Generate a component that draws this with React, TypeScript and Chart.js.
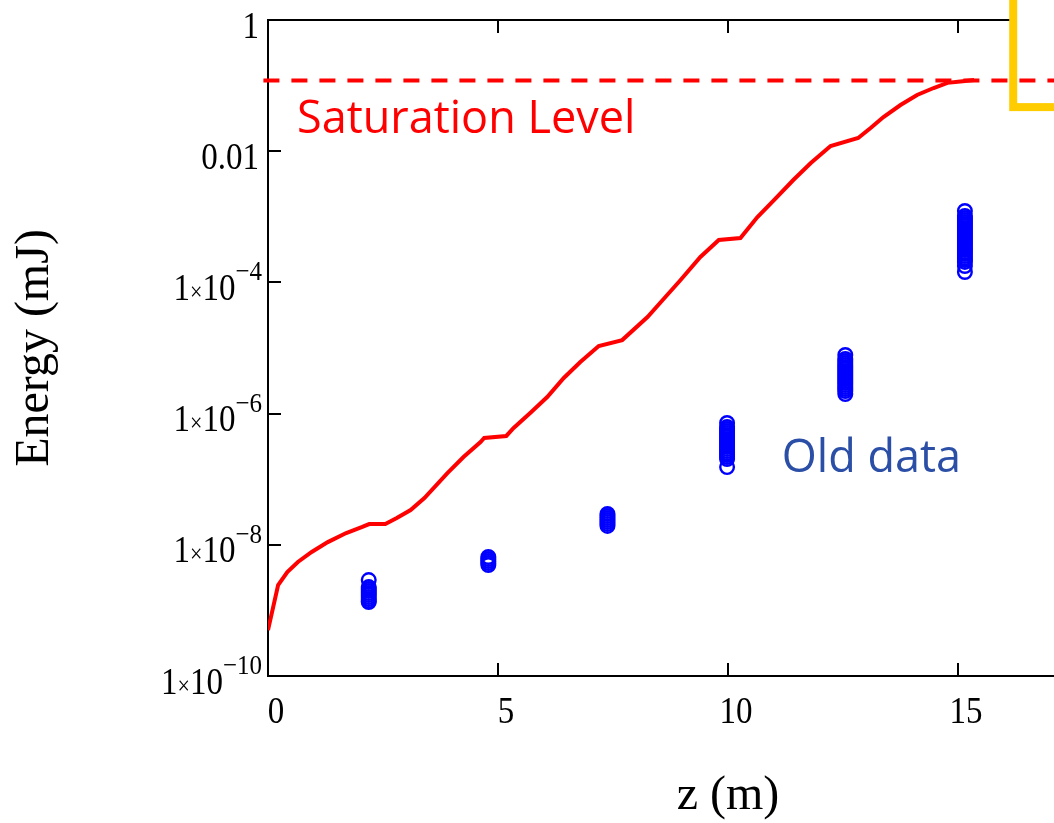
import React, { useEffect, useRef } from 'react';
import { Chart, registerables } from 'chart.js';

Chart.register(...registerables);

// ---- data ----
const curveZ = [
  0, 0.22, 0.42, 0.65, 0.95, 1.3, 1.7, 2.05, 2.2, 2.55, 2.8, 3.1, 3.4, 3.9, 4.25, 4.62, 4.7,
  5.18, 5.34, 5.7, 6.07, 6.43, 6.79, 7.19, 7.7, 8.25, 8.6, 8.95, 9.4, 9.8, 10.27, 10.64, 11.0,
  11.42, 11.8, 12.23, 12.83, 13.1, 13.38, 13.75, 14.11, 14.47, 14.77, 15.05, 15.35,
];
const curveEnergy = [
  5.0e-10, 2.44e-9, 3.85e-9, 5.47e-9, 7.77e-9, 1.1e-8, 1.51e-8, 1.87e-8, 2.07e-8, 2.07e-8,
  2.56e-8, 3.39e-8, 5.17e-8, 1.24e-7, 2.18e-7, 3.69e-7, 4.25e-7, 4.56e-7, 6.03e-7, 1.02e-6,
  1.79e-6, 3.49e-6, 6.12e-6, 1.07e-5, 1.32e-5, 2.97e-5, 5.58e-5, 1.05e-4, 2.44e-4, 4.43e-4,
  4.75e-4, 9.93e-4, 1.8e-3, 3.64e-3, 6.61e-3, 1.2e-2, 1.59e-2, 2.26e-2, 3.32e-2, 5.06e-2,
  7.19e-2, 9.19e-2, 0.11, 0.1155, 0.1217,
];
const saturationZ = [-0.1, 20];
const saturationEnergy = [0.12, 0.12];

const oldDataZ = [2.19, 4.79, 7.38, 9.98, 12.55, 15.15];
const oldDataEnergy = [
  [2.9e-9, 2.27e-9, 2.12e-9, 1.98e-9, 1.84e-9, 1.72e-9, 1.6e-9, 1.49e-9, 1.39e-9, 1.34e-9],
  [6.52e-9, 6.08e-9, 5.66e-9, 5.28e-9, 4.92e-9],
  [2.95e-8, 2.75e-8, 2.56e-8, 2.39e-8, 2.23e-8, 2.08e-8, 1.94e-8],
  [
    7.19e-7, 6.25e-7, 5.82e-7, 5.43e-7, 5.06e-7, 4.72e-7, 4.4e-7, 4.1e-7, 3.82e-7, 3.56e-7,
    3.32e-7, 3.1e-7, 2.89e-7, 2.69e-7, 2.51e-7, 2.34e-7, 2.18e-7, 2.03e-7, 1.53e-7,
  ],
  [
    7.82e-6, 6.79e-6, 6.33e-6, 5.9e-6, 5.5e-6, 5.13e-6, 4.78e-6, 4.46e-6, 4.16e-6, 3.88e-6,
    3.61e-6, 3.37e-6, 3.14e-6, 2.93e-6, 2.73e-6, 2.54e-6, 2.37e-6, 2.21e-6, 1.99e-6,
  ],
  [
    1.225e-3, 1.028e-3, 9.59e-4, 8.94e-4, 8.33e-4, 7.77e-4, 7.24e-4, 6.75e-4, 6.29e-4, 5.86e-4,
    5.47e-4, 5.1e-4, 4.75e-4, 4.43e-4, 4.13e-4, 3.85e-4, 3.59e-4, 3.34e-4, 3.12e-4, 2.91e-4,
    2.71e-4, 2.52e-4, 2.35e-4, 2.19e-4, 2.05e-4, 1.78e-4, 1.44e-4,
  ],
];

const xTickValues = [0, 5, 10, 15, 20];
const xTickLabels = ['0', '5', '10', '15', '20'];
const yTickValues = [1e-10, 1e-8, 1e-6, 1e-4, 1e-2, 1];
const yTickLabels = ['1×10^−10', '1×10^−8', '1×10^−6', '1×10^−4', '0.01', '1'];

const xTitle = 'z (m)';
const yTitle = 'Energy (mJ)';
const saturationText = 'Saturation Level';
const saturationTextAt = { x: 0.63, y: 0.019 };
const oldDataText = 'Old data';
const oldDataTextAt = { x: 11.17, y: 1.29e-7 };
const boxCorner = { x: 16.2, y: 0.047 };

const SERIF = '"Liberation Serif", "Times New Roman", serif';
const SANS = '"Open Sans", "Noto Sans", sans-serif';
const STRETCH = 1.16;
const TICK_LEN = 13;

function stretchedText(ctx: CanvasRenderingContext2D, t: string, x: number, baseline: number, sy: number) {
  ctx.save();
  ctx.translate(x, baseline);
  ctx.scale(1, sy);
  ctx.fillText(t, 0, 0);
  ctx.restore();
}

function drawYLabel(ctx: CanvasRenderingContext2D, label: string, right: number, py: number) {
  const [base, exp] = label.split('^');
  const segs: { t: string; font: string; dy: number; sy: number }[] = [];
  for (const ch of base) {
    const font = ch === '×' ? `22px ${SERIF}` : `33px ${SERIF}`;
    const last = segs[segs.length - 1];
    if (last && last.font === font) last.t += ch;
    else segs.push({ t: ch, font, dy: 17.5, sy: STRETCH });
  }
  if (exp) segs.push({ t: exp, font: `25px ${SERIF}`, dy: -2, sy: 1.1 });
  let total = 0;
  const widths = segs.map((s) => {
    ctx.font = s.font;
    const w = ctx.measureText(s.t).width;
    total += w;
    return w;
  });
  let x = right - total;
  segs.forEach((s, i) => {
    ctx.font = s.font;
    stretchedText(ctx, s.t, x, py + s.dy, s.sy);
    x += widths[i];
  });
}

const framePlugin = {
  id: 'frameAndNotes',
  beforeDatasetsDraw(chart: any) {
    const { ctx, chartArea: a, scales } = chart;
    const x = scales.x;
    const y = scales.y;
    ctx.save();
    ctx.fillStyle = '#000';
    // top and right frame
    ctx.fillRect(a.left - 1, a.top - 1, a.right - a.left + 2, 2);
    ctx.fillRect(a.right - 1, a.top - 1, 2, a.bottom - a.top + 2);
    // inner of the framed inset box (white)
    const bx = x.getPixelForValue(boxCorner.x);
    const by = y.getPixelForValue(boxCorner.y);
    ctx.fillStyle = '#fff';
    ctx.fillRect(bx, -10, chart.width - bx + 10, by + 10);
    ctx.restore();
  },
  afterDraw(chart: any) {
    const { ctx, chartArea: a, scales } = chart;
    const x = scales.x;
    const y = scales.y;
    ctx.save();
    // inward tick marks
    ctx.fillStyle = '#000000';
    for (let i = 0; i < xTickValues.length; i++) {
      const px = Math.round(x.getPixelForValue(xTickValues[i]));
      ctx.fillRect(px - 1, a.bottom - TICK_LEN, 2, TICK_LEN);
      if (px < 1000) ctx.fillRect(px - 1, a.top, 2, TICK_LEN);
    }
    for (let i = 0; i < yTickValues.length; i++) {
      const py = Math.round(y.getPixelForValue(yTickValues[i]));
      ctx.fillRect(a.left, py - 1, TICK_LEN, 2);
      ctx.fillRect(a.right - TICK_LEN, py - 1, TICK_LEN, 2);
    }
    ctx.textBaseline = 'alphabetic';
    // y tick labels
    ctx.textAlign = 'left';
    yTickValues.forEach((v, i) => {
      const label = yTickLabels[i];
      const py = y.getPixelForValue(v);
      const right = label.includes('^') ? a.left - 6 : a.left - 9;
      drawYLabel(ctx, label, right, py);
    });
    // x tick labels
    ctx.textAlign = 'center';
    ctx.font = `33px ${SERIF}`;
    xTickValues.forEach((v, i) => {
      const px = x.getPixelForValue(v) + 8;
      stretchedText(ctx, xTickLabels[i], px, a.bottom + 47, STRETCH);
    });
    // annotations
    ctx.textAlign = 'left';
    ctx.font = `45px ${SANS}`;
    ctx.fillStyle = '#ff0000';
    ctx.fillText(saturationText, x.getPixelForValue(saturationTextAt.x), y.getPixelForValue(saturationTextAt.y));
    ctx.fillStyle = '#2b4fa6';
    ctx.fillText(oldDataText, x.getPixelForValue(oldDataTextAt.x), y.getPixelForValue(oldDataTextAt.y));
    // yellow inset box
    const bx = x.getPixelForValue(boxCorner.x);
    const by = y.getPixelForValue(boxCorner.y);
    ctx.strokeStyle = '#ffcc00';
    ctx.lineWidth = 8;
    ctx.strokeRect(bx, -60, chart.width, by + 60);
    ctx.restore();
  },
};

export default function App() {
  const canvasRef = useRef<HTMLCanvasElement | null>(null);

  useEffect(() => {
    if (!canvasRef.current) return;
    const oldPoints: { x: number; y: number }[] = [];
    oldDataZ.forEach((z, i) => {
      oldDataEnergy[i].forEach((e) => oldPoints.push({ x: z, y: e }));
    });

    const chart = new Chart(canvasRef.current, {
      type: 'scatter',
      data: {
        datasets: [
          {
            label: 'Simulation',
            data: curveZ.map((z, i) => ({ x: z, y: curveEnergy[i] })),
            showLine: true,
            borderColor: '#ff0000',
            borderWidth: 4,
            pointRadius: 0,
            tension: 0,
          },
          {
            label: 'Saturation Level',
            data: saturationZ.map((z, i) => ({ x: z, y: saturationEnergy[i] })),
            showLine: true,
            borderColor: '#ff0000',
            borderWidth: 4,
            borderDash: [16, 12],
            pointRadius: 0,
            clip: false as any,
          },
          {
            label: 'Old data',
            data: oldPoints,
            showLine: false,
            pointStyle: 'circle',
            pointRadius: 6.8,
            pointBorderWidth: 2.4,
            borderColor: '#0000ff',
            backgroundColor: 'rgba(0,0,0,0)',
            pointBackgroundColor: 'rgba(0,0,0,0)',
          },
        ],
      },
      options: {
        responsive: false,
        animation: false,
        layout: { padding: { left: 0, top: 20, right: 12, bottom: 0 } },
        plugins: {
          legend: { display: false },
          tooltip: { enabled: false },
        },
        scales: {
          x: {
            type: 'linear',
            position: 'bottom',
            min: 0,
            max: 20,
            grid: { display: false, drawTicks: false },
            border: { display: true, color: '#000', width: 2 },
            ticks: { display: false },
            afterBuildTicks: (s: any) => {
              s.ticks = xTickValues.map((v) => ({ value: v }));
            },
            afterFit: (s: any) => {
              s.height = 147;
            },
            title: {
              display: true,
              text: xTitle,
              color: '#000',
              font: { family: SERIF, size: 48, lineHeight: 1.1 },
              padding: { top: 0, bottom: 0 },
            },
          },
          y: {
            type: 'logarithmic',
            position: 'left',
            min: 1e-10,
            max: 1,
            grid: { display: false, drawTicks: false },
            border: { display: true, color: '#000', width: 2 },
            ticks: { display: false },
            afterBuildTicks: (s: any) => {
              s.ticks = yTickValues.map((v) => ({ value: v }));
            },
            afterFit: (s: any) => {
              s.width = 268;
            },
            title: {
              display: true,
              text: yTitle,
              color: '#000',
              font: { family: SERIF, size: 48, lineHeight: 1.1 },
              padding: { top: 9, bottom: 0 },
            },
          },
        },
      },
      plugins: [framePlugin],
    } as any);

    return () => chart.destroy();
  }, []);

  return (
    <div
      style={{
        position: 'fixed',
        left: 0,
        top: 0,
        width: 1054,
        height: 823,
        overflow: 'hidden',
        background: '#fff',
      }}
    >
      <canvas ref={canvasRef} width={1200} height={823} style={{ display: 'block' }} />
    </div>
  );
}
